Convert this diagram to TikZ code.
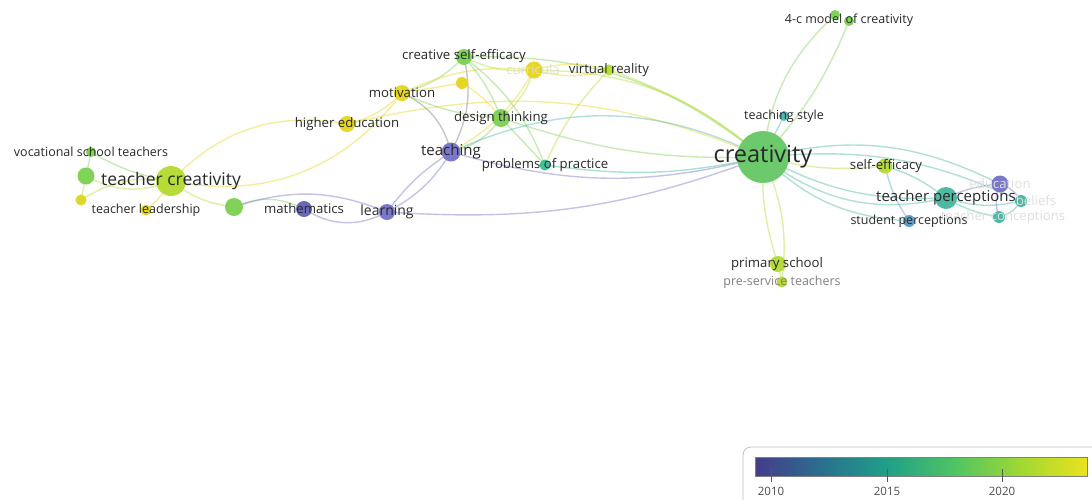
\documentclass[tikz,border=0pt]{standalone}
\usepackage{fontspec}
\setmainfont{Open Sans}
\usetikzlibrary{backgrounds}
\definecolor{cGreen}{RGB}{108,202,108}
\definecolor{cLG}{RGB}{128,210,88}
\definecolor{cYG}{RGB}{182,220,58}
\definecolor{cYel}{RGB}{230,214,38}
\definecolor{cPur}{RGB}{122,120,202}
\definecolor{cPurD}{RGB}{108,104,184}
\definecolor{cTeal}{RGB}{78,186,164}
\definecolor{cTS}{RGB}{84,182,184}
\definecolor{cBlue}{RGB}{96,160,204}
\definecolor{cProb}{RGB}{66,190,150}
\definecolor{lab}{RGB}{40,40,40}
\definecolor{faded}{RGB}{222,222,222}
\definecolor{v1}{RGB}{68,60,138}
\definecolor{v2}{RGB}{42,112,142}
\definecolor{v3}{RGB}{32,160,136}
\definecolor{v4}{RGB}{80,196,100}
\definecolor{v5}{RGB}{160,216,50}
\definecolor{v6}{RGB}{236,226,30}
\begin{document}
\begin{tikzpicture}[x=1pt,y=-1pt,
  vnode/.style={circle,inner sep=0pt,minimum size=#1},
  lbl/.style={text=lab,inner sep=0pt,font=\fontsize{13.2}{13.2}\selectfont},
  edge/.style={line width=1.4pt,opacity=0.45,draw=#1},
]
\useasboundingbox (0,0) rectangle (1092,499);

% ---- nodes ----
\node[vnode=52pt,fill=cGreen] (cr) at (763,157) {};
\node[vnode=30pt,fill=cYG] (tc) at (171,181) {};
\node[vnode=19pt,fill=cPur] (te) at (451,152) {};
\node[vnode=16pt,fill=cPur] (le) at (387,212) {};
\node[vnode=16pt,fill=cPurD] (ma) at (304,209) {};
\node[vnode=16pt,fill=cYel] (he) at (347,124) {};
\node[vnode=16pt,fill=cYel] (mo) at (402,93) {};
\node[vnode=16pt,fill=cLG] (cse) at (464,57) {};
\node[vnode=12pt,fill=cYel] (uy) at (462,83) {};
\node[vnode=17pt,fill=cYel] (cu) at (534,70) {};
\node[vnode=11pt,fill=cYG] (vr) at (609,70) {};
\node[vnode=18pt,fill=cLG] (dt) at (501,118) {};
\node[vnode=11pt,fill=cProb] (pp) at (545,165) {};
\node[vnode=10pt,fill=cLG] (fa) at (835,15) {};
\node[vnode=10pt,fill=cLG] (fb) at (849,21) {};
\node[vnode=10pt,fill=cTS] (ts) at (784,116) {};
\node[vnode=15pt,fill=cYG] (se) at (885,166) {};
\node[vnode=22pt,fill=cTeal] (tp) at (946,198) {};
\node[vnode=17pt,fill=cPur] (ed) at (1000,184) {};
\node[vnode=12pt,fill=cTeal] (be) at (1021,201) {};
\node[vnode=12pt,fill=cTeal] (tcn) at (999,217) {};
\node[vnode=12pt,fill=cBlue] (sp) at (909,221) {};
\node[vnode=16pt,fill=cYG] (ps) at (778,264) {};
\node[vnode=11pt,fill=cYG] (pst) at (782,282) {};
\node[vnode=10pt,fill=cLG] (vo) at (91,152) {};
\node[vnode=17pt,fill=cLG] (g1) at (86,176) {};
\node[vnode=11pt,fill=cYel!80!cYG] (y1) at (81,200) {};
\node[vnode=11pt,fill=cYel] (tl) at (146,210) {};
\node[vnode=18pt,fill=cLG] (g2) at (234,207) {};

% ---- edges ----
\begin{scope}[on background layer]
\draw[edge=cYG] (tc.center) to[bend left=25] (g1.center);
\draw[edge=cLG] (tc.center) to[bend left=10] (vo.center);
\draw[edge=cLG] (vo.center) to (g1.center);
\draw[edge=cYG] (g1.center) to (y1.center);
\draw[edge=cYG] (y1.center) to[bend left=20] (tc.center);
\draw[edge=cYel] (tc.center) to[bend left=10] (tl.center);
\draw[edge=cYG] (tc.center) to[bend right=15] (g2.center);
\draw[edge=cLG] (g2.center) to[bend left=25] (ma.center);
\draw[edge=cPur] (g2.center) to[bend left=20] (le.center);
\draw[edge=cPur] (ma.center) to[bend right=30] (le.center);
\draw[edge=cPur] (le.center) to[bend right=15] (te.center);
\draw[edge=cPur] (le.center) to[bend left=10] (te.center);
\draw[edge=cYel] (tc.center) to[bend left=28] (he.center);
\draw[edge=cYel] (tc.center) to[bend right=32] (mo.center);
\draw[edge=cYel] (he.center) to[bend left=18] (cr.center);
\draw[edge=cYel] (he.center) to[bend right=15] (mo.center);
\draw[edge=cLG] (mo.center) to[bend right=15] (cse.center);
\draw[edge=cYel] (mo.center) to[bend left=15] (cu.center);
\draw[edge=cYel] (mo.center) to (uy.center);
\draw[edge=gray] (mo.center) to[bend left=25] (te.center);
\draw[edge=cLG] (mo.center) to[bend right=10] (dt.center);
\draw[edge=gray] (cse.center) to[bend left=20] (te.center);
\draw[edge=cLG] (cse.center) to[bend left=10] (dt.center);
\draw[edge=cYG] (cse.center) to[bend right=15] (cu.center);
\draw[edge=cLG] (cse.center) to[bend left=15] (pp.center);
\draw[edge=cLG] (cse.center) to[bend left=20] (cr.center);
\draw[edge=cYel] (cu.center) to[bend left=15] (vr.center);
\draw[edge=cYel] (cu.center) to[bend right=15] (vr.center);
\draw[edge=cYG] (cu.center) to[bend left=15] (dt.center);
\draw[edge=cYG] (cu.center) to[bend left=20] (cr.center);
\draw[edge=cYel] (cu.center) to[bend left=15] (te.center);
\draw[edge=cYG] (vr.center) to[bend left=10] (cr.center);
\draw[edge=cLG] (dt.center) to[bend left=20] (te.center);
\draw[edge=cLG] (dt.center) to (pp.center);
\draw[edge=cLG] (dt.center) to[bend right=10] (cr.center);
\draw[edge=cTS] (te.center) to[bend left=25] (cr.center);
\draw[edge=cPur] (te.center) to[bend right=15] (cr.center);
\draw[edge=cPur] (le.center) to[bend right=12] (cr.center);
\draw[edge=cProb] (pp.center) to[bend right=10] (cr.center);
\draw[edge=cLG] (cr.center) to[bend left=20] (fa.center);
\draw[edge=cLG] (cr.center) to[bend right=10] (fb.center);
\draw[edge=cTS] (cr.center) to (ts.center);
\draw[edge=cYG] (cr.center) to[bend right=10] (se.center);
\draw[edge=cTeal] (cr.center) to[bend right=15] (tp.center);
\draw[edge=cTeal] (cr.center) to[bend right=25] (tp.center);
\draw[edge=cTeal] (cr.center) to[bend right=20] (sp.center);
\draw[edge=cTeal] (cr.center) to[bend left=20] (ed.center);
\draw[edge=cTeal] (cr.center) to[bend left=15] (be.center);
\draw[edge=cYG] (cr.center) to[bend right=10] (ps.center);
\draw[edge=cYG] (cr.center) to[bend left=15] (pst.center);
\draw[edge=cYG] (ps.center) to (pst.center);
\draw[edge=cTeal] (se.center) to[bend left=10] (tp.center);
\draw[edge=cBlue] (se.center) to[bend right=10] (sp.center);
\draw[edge=cPur] (tp.center) to[bend left=10] (ed.center);
\draw[edge=cTeal] (tp.center) to[bend right=15] (be.center);
\draw[edge=cTeal] (tp.center) to[bend right=10] (tcn.center);
\draw[edge=cPur] (ed.center) to[bend left=20] (be.center);
\draw[edge=cPur] (ed.center) to[bend right=20] (tcn.center);
\draw[edge=cTeal] (tcn.center) to[bend right=20] (be.center);
\draw[edge=cYel] (uy.center) to[bend left=10] (dt.center);
\draw[edge=cYG] (vr.center) to[bend right=10] (pp.center);
\end{scope}

% ---- labels ----
\node[lbl,font=\fontsize{23.5}{23.5}\selectfont] (crL) at (763,157) {creativity};
\node[lbl,font=\fontsize{17.5}{17.5}\selectfont] (tcL) at (171,181) {teacher creativity};
\node[lbl,font=\fontsize{15}{15}\selectfont] (teL) at (451,152) {teaching};
\node[lbl,font=\fontsize{15}{15}\selectfont] (tpL) at (946,198) {teacher perceptions};
\node[lbl,font=\fontsize{14}{14}\selectfont] (leL) at (387,212) {learning};
\node[lbl] (maL) at (304,209) {mathematics};
\node[lbl] (heL) at (347,124) {higher education};
\node[lbl] (moL) at (402,93) {motivation};
\node[lbl] (cseL) at (464,56) {creative self-efficacy};
\node[lbl,text=faded] (cuL) at (533,70) {curricula};
\node[lbl] (vrL) at (609,70) {virtual reality};
\node[lbl] (dtL) at (501,118) {design thinking};
\node[lbl] (ppL) at (545,165) {problems of practice};
\node[lbl,font=\fontsize{12.5}{12.5}\selectfont] (faL) at (849,20) {4-c model of creativity};
\node[lbl,font=\fontsize{12.5}{12.5}\selectfont] (tsL) at (784,116) {teaching style};
\node[lbl] (seL) at (886,166) {self-efficacy};
\node[lbl,text=faded] (edL) at (1000,184) {education};
\node[lbl,text=faded] (beL) at (1036,201) {beliefs};
\node[lbl,text=faded] (tcnL) at (1003,217) {teacher conceptions};
\node[lbl,font=\fontsize{12.5}{12.5}\selectfont] (spL) at (909,221) {student perceptions};
\node[lbl] (psL) at (777,264) {primary school};
\node[lbl,text=gray,font=\fontsize{12.5}{12.5}\selectfont] (pstL) at (782,282) {pre-service teachers};
\node[lbl,font=\fontsize{12.5}{12.5}\selectfont] (voL) at (91,152) {vocational school teachers};
\node[lbl,font=\fontsize{12.5}{12.5}\selectfont] (tlL) at (146,210) {teacher leadership};

% ---- legend ----
\draw[gray!50,line width=0.8pt,rounded corners=8pt] (743,510) -- (743,447) -- (1100,447);
\shade[left color=v1,right color=v2] (755,457) rectangle (822,476);
\shade[left color=v2,right color=v3] (821.5,457) rectangle (888,476);
\shade[left color=v3,right color=v4] (887.5,457) rectangle (955,476);
\shade[left color=v4,right color=v5] (954.5,457) rectangle (1021,476);
\shade[left color=v5,right color=v6] (1020.5,457) rectangle (1087,476);
\draw[gray,line width=0.7pt] (755,457) rectangle (1087,476);
\foreach \x/\y in {771/2010,887/2015,1002/2020}{
  \draw[gray!70!black,line width=0.6pt] (\x,469) -- (\x,482);
  \node[text=gray!60!black,inner sep=0pt,font=\fontsize{11.5}{11.5}\selectfont] (yr\y) at (\x,491) {\y};
}
\end{tikzpicture}
\end{document}
